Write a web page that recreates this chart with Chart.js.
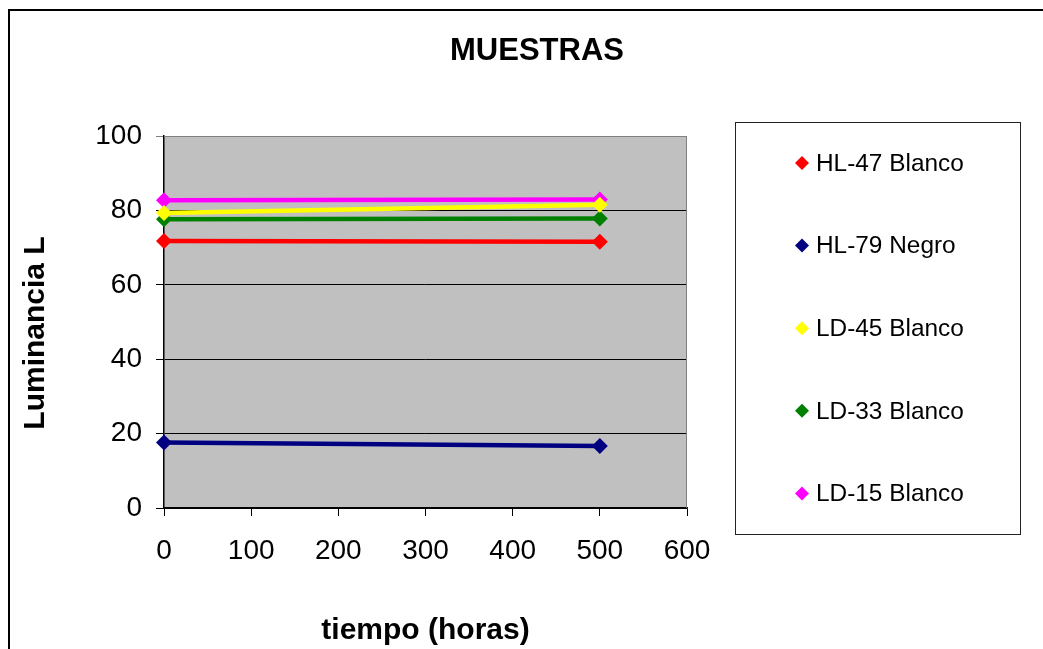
<!DOCTYPE html>
<html>
<head>
<meta charset="utf-8">
<title>MUESTRAS</title>
<script src="https://cdn.jsdelivr.net/npm/chart.js@4/dist/chart.umd.min.js"></script>
<style>
  html, body { margin: 0; padding: 0; background: #ffffff; }
  #wrap { width: 1043px; height: 649px; position: relative; }
</style>
</head>
<body>
<div id="wrap"><canvas id="c" width="1043" height="649"></canvas></div>
<script>
// Measurement times (hours)
const tiempos = [0, 500];

// Luminance L per sample
const hl47Blanco = [71.8, 71.6];
const hl79Negro  = [17.6, 16.7];
const ld45Blanco = [79.3, 81.5];
const ld33Blanco = [77.6, 77.8];
const ld15Blanco = [82.7, 82.9];

const seriesNames  = ['HL-47 Blanco', 'HL-79 Negro', 'LD-45 Blanco', 'LD-33 Blanco', 'LD-15 Blanco'];
const seriesValues = [hl47Blanco, hl79Negro, ld45Blanco, ld33Blanco, ld15Blanco];
const seriesColors = ['#FF0000', '#000080', '#FFFF00', '#008000', '#FF00FF'];

const xTicks = [0, 100, 200, 300, 400, 500, 600];
const yTicks = [0, 20, 40, 60, 80, 100];

const chartTitle = 'MUESTRAS';
const xTitle = 'tiempo (horas)';
const yTitle = 'Luminancia L';

const FONT = '"Liberation Sans", Arial, sans-serif';

const datasets = seriesNames.map((name, i) => ({
  label: name,
  data: tiempos.map((t, j) => ({ x: t, y: seriesValues[i][j] })),
  borderColor: seriesColors[i],
  backgroundColor: seriesColors[i],
  borderWidth: 4.5,
  pointStyle: 'rectRot',
  pointRadius: 8,
  pointHoverRadius: 8,
  pointBorderWidth: 0,
  tension: 0,
  fill: false,
  clip: false
}));

// Plot background, outer frame, titles and a boxed legend
const decorations = {
  id: 'decorations',
  beforeDraw(chart) {
    const { ctx, chartArea: a } = chart;
    ctx.save();
    ctx.fillStyle = '#ffffff';
    ctx.fillRect(0, 0, chart.width, chart.height);
    ctx.fillStyle = '#C0C0C0';
    ctx.fillRect(a.left, a.top, a.right - a.left, a.bottom - a.top);
    ctx.restore();
  },
  afterDraw(chart) {
    const { ctx, chartArea: a } = chart;
    ctx.save();

    // outer frame
    ctx.strokeStyle = '#000000';
    ctx.lineWidth = 2;
    ctx.beginPath();
    ctx.moveTo(9, chart.height + 5);
    ctx.lineTo(9, 10);
    ctx.lineTo(chart.width + 5, 10);
    ctx.stroke();

    // titles
    ctx.fillStyle = '#000000';
    ctx.textBaseline = 'alphabetic';
    ctx.textAlign = 'center';
    ctx.font = 'bold 31px ' + FONT;
    ctx.fillText(chartTitle, 537, 60);
    ctx.font = 'bold 30px ' + FONT;
    ctx.fillText(xTitle, (a.left + a.right) / 2, 639);
    ctx.save();
    ctx.translate(44, 333);
    ctx.rotate(-Math.PI / 2);
    ctx.fillText(yTitle, 0, 0);
    ctx.restore();

    // legend box
    const bx = 735.5, by = 122.5, bw = 285, bh = 412;
    ctx.strokeStyle = '#222222';
    ctx.lineWidth = 1;
    ctx.strokeRect(bx, by, bw, bh);
    ctx.font = '24.4px ' + FONT;
    ctx.textAlign = 'left';
    ctx.textBaseline = 'middle';
    chart.data.datasets.forEach((ds, i) => {
      const cy = 163 + i * 82.6;
      const cx = 802;
      const r = 7;
      ctx.fillStyle = ds.backgroundColor;
      ctx.beginPath();
      ctx.moveTo(cx, cy - r);
      ctx.lineTo(cx + r, cy);
      ctx.lineTo(cx, cy + r);
      ctx.lineTo(cx - r, cy);
      ctx.closePath();
      ctx.fill();
      ctx.fillStyle = '#000000';
      ctx.fillText(ds.label, 816, cy + 1);
    });
    ctx.restore();
  }
};

// plot border top/right drawn under the series
const plotBorder = {
  id: 'plotBorder',
  beforeDatasetsDraw(chart) {
    const { ctx, chartArea: a } = chart;
    ctx.save();
    ctx.strokeStyle = '#808080';
    ctx.lineWidth = 1;
    ctx.beginPath();
    ctx.moveTo(a.left, a.top + 0.5);
    ctx.lineTo(a.right - 0.5, a.top + 0.5);
    ctx.lineTo(a.right - 0.5, a.bottom);
    ctx.stroke();
    ctx.restore();
  }
};

new Chart(document.getElementById('c'), {
  type: 'line',
  data: { datasets },
  options: {
    responsive: false,
    animation: false,
    events: [],
    layout: { padding: { left: 0, top: 136, right: 356, bottom: 0 } },
    plugins: {
      legend: { display: false },
      title: { display: false },
      tooltip: { enabled: false }
    },
    scales: {
      x: {
        type: 'linear',
        min: xTicks[0],
        max: xTicks[xTicks.length - 1],
        afterBuildTicks(scale) { scale.ticks = xTicks.map(v => ({ value: v })); },
        afterFit(scale) { scale.height = 141; },
        grid: {
          drawOnChartArea: false,
          drawTicks: true,
          tickLength: 8,
          color: '#000000',
          lineWidth: 1
        },
        border: { display: true, color: '#000000', width: 1.5 },
        ticks: {
          color: '#000000',
          font: { family: FONT, size: 28 },
          padding: 18,
          maxRotation: 0
        },
        title: { display: false }
      },
      y: {
        type: 'linear',
        min: yTicks[0],
        max: yTicks[yTicks.length - 1],
        afterBuildTicks(scale) { scale.ticks = yTicks.map(v => ({ value: v })); },
        afterFit(scale) { scale.width = 164; },
        grid: {
          drawOnChartArea: true,
          drawTicks: true,
          tickLength: 8,
          color: ctx => (ctx.tick && ctx.tick.value === 100 ? '#808080' : '#000000'),
          lineWidth: 1
        },
        border: { display: true, color: '#000000', width: 1.5 },
        ticks: {
          color: '#000000',
          font: { family: FONT, size: 28 },
          padding: 14
        },
        title: { display: false }
      }
    }
  },
  plugins: [plotBorder, decorations]
});
</script>
</body>
</html>
